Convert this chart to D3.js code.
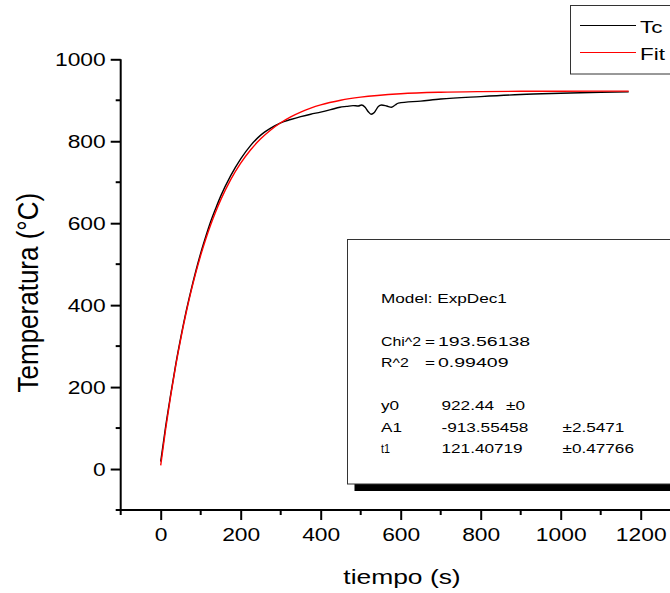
<!DOCTYPE html>
<html>
<head>
<meta charset="utf-8">
<script src="https://cdn.jsdelivr.net/npm/d3@7"></script>
<style>
  html, body { margin: 0; padding: 0; background: #fff; }
  svg { display: block; font-family: "Liberation Sans", Arial, sans-serif; }
</style>
</head>
<body>
<svg id="chart" width="670" height="593"></svg>
<script>
// Measured furnace temperature (Tc) versus time
const tcTime = [0, 12.5, 25, 37.5, 50, 62.5, 75, 87.5, 100, 112.5, 125, 137.5, 150, 175, 200, 225, 250, 275, 300,
  325, 350, 375, 400, 425, 448, 465, 481, 494, 502, 511, 519, 526, 534, 544, 552, 565, 577, 586, 594,
  650, 700, 800, 900, 1000, 1100, 1170];
const tcTemp = [18, 105, 182, 255, 320, 380, 433, 482, 527, 567, 604, 636, 666, 716, 757, 790, 815, 832, 845,
  853, 860, 866, 871, 877, 883, 885, 887, 886, 888.5, 883, 872, 866, 870, 885, 888.5, 886, 883, 888.5, 893,
  898, 903, 909, 914, 917, 919.5, 920.5];

// ExpDec1 fit curve, sampled
const fitTime = [0, 12.5, 25, 37.5, 50, 62.5, 75, 87.5, 100, 112.5, 125, 137.5, 150, 175, 200, 225, 250, 275, 300,
  325, 350, 375, 400, 450, 500, 600, 700, 800, 900, 1000, 1170];
const fitTemp = [8.9, 98.3, 178.9, 251.6, 317.2, 376.5, 429.9, 478.1, 521.5, 560.7, 596.2, 628.1, 656.9, 706.3,
  746.5, 779.3, 805.9, 827.6, 845.2, 859.6, 871.3, 880.8, 888.6, 900.0, 907.6, 915.9, 919.6, 921.2, 921.9, 922.2, 922.4];

// Axis ticks
const xMajor = [0, 200, 400, 600, 800, 1000, 1200];
const xMinor = [-100, 100, 300, 500, 700, 900, 1100, 1300];
const yMajor = [0, 200, 400, 600, 800, 1000];
const yMinor = [-100, 100, 300, 500, 700, 900];

// Legend entries
const legendNames = ["Tc", "Fit"];
const legendColors = ["#000000", "#ff0000"];

// Fit report: one row per line, [label, "=" sign, value, error]
const reportRows = [
  ["Model: ExpDec1", "", "", ""],
  null,
  ["Chi^2", "=", "193.56138", ""],
  ["R^2", "=", "0.99409", ""],
  null,
  ["y0", "", "922.44", "\u00b10"],
  ["A1", "", "-913.55458", "\u00b12.5471"],
  ["t1", "", "121.40719", "\u00b10.47766"]
];

// Text in this figure is set wide: glyphs are stretched horizontally
function widen(sel, sx = 1.32) {
  sel.each(function () {
    const w = this.getComputedTextLength();
    d3.select(this).attr("textLength", w * sx).attr("lengthAdjust", "spacingAndGlyphs");
  });
}

const svg = d3.select("#chart");

const x = d3.scaleLinear().domain([-100, 1300]).range([120.7, 680.7]);
const y = d3.scaleLinear().domain([-100, 1000]).range([510, 59.3]);

// Curves
const line = d3.line().x(d => x(d[0])).y(d => y(d[1])).curve(d3.curveMonotoneX);
const tcData = tcTime.map((t, i) => [t, tcTemp[i]]);
const fitData = fitTime.map((t, i) => [t, fitTemp[i]]);

svg.append("path").datum(tcData)
  .attr("d", line).attr("fill", "none").attr("stroke", "#000").attr("stroke-width", 1.4);
svg.append("path").datum(fitData)
  .attr("d", line).attr("fill", "none").attr("stroke", "#ff0000").attr("stroke-width", 1.4);

// Axes
const axisStyle = g => {
  g.select(".domain").attr("stroke", "#000").attr("stroke-width", 2);
  g.selectAll(".tick line").attr("stroke", "#000").attr("stroke-width", 2);
  g.selectAll(".tick text").attr("fill", "#000").style("font-size", "19px")
    .style("font-family", "'Liberation Sans', Arial, sans-serif");
};

const xAxis = svg.append("g").attr("transform", `translate(0,${y(-100)})`)
  .call(d3.axisBottom(x).tickValues(xMajor).tickSize(10).tickPadding(8).tickSizeOuter(0).tickFormat(d3.format("d")));
axisStyle(xAxis);
xAxis.select(".domain").attr("d", `M${x(-100) - 4},0H${x(1300)}`);
xAxis.selectAll(".minor").data(xMinor).enter().append("line")
  .attr("x1", d => x(d)).attr("x2", d => x(d)).attr("y1", 0).attr("y2", 5)
  .attr("stroke", "#000").attr("stroke-width", 2);
widen(xAxis.selectAll(".tick text"), 1.2);

const yAxis = svg.append("g").attr("transform", `translate(${x(-100)},0)`)
  .call(d3.axisLeft(y).tickValues(yMajor).tickSize(10).tickPadding(5).tickSizeOuter(0).tickFormat(d3.format("d")));
axisStyle(yAxis);
yAxis.select(".domain").attr("d", `M0,${y(1000)}V${y(-100) + 1}`);
yAxis.selectAll(".minor").data(yMinor).enter().append("line")
  .attr("x1", -5).attr("x2", 0).attr("y1", d => y(d)).attr("y2", d => y(d))
  .attr("stroke", "#000").attr("stroke-width", 2);
widen(yAxis.selectAll(".tick text"), 1.2);

// Axis titles
svg.append("text")
  .attr("transform", `translate(38,${(y(-100) + y(1000)) / 2 + 8}) rotate(-90) scale(1,1.12)`)
  .attr("text-anchor", "middle").style("font-size", "26px").text("Temperatura (\u00b0C)");
svg.append("text")
  .attr("x", 402).attr("y", 584)
  .attr("text-anchor", "middle").style("font-size", "20px").text("tiempo (s)")
  .call(widen);

// Fit report box with drop shadow
const box = { x: 347.5, y: 239.5, w: 340, h: 244.5 };
svg.append("rect").attr("x", box.x + 7).attr("y", box.y + box.h).attr("width", box.w).attr("height", 7)
  .attr("fill", "#000");
svg.append("rect").attr("x", box.x).attr("y", box.y).attr("width", box.w).attr("height", box.h)
  .attr("fill", "#fff").attr("stroke", "#333").attr("stroke-width", 1);

reportRows.forEach((row, i) => {
  if (!row) return;
  const by = 302.5 + i * 21.5;
  const [label, eq, val, err] = row;
  const put = (txt, cx) => svg.append("text").attr("x", cx).attr("y", by)
    .style("font-size", "13px").text(txt);
  const lt = put(label, 381);
  if (label === "t1") lt.attr("textLength", 9).attr("lengthAdjust", "spacingAndGlyphs");
  else widen(lt, eq ? 1.22 : 1.32);
  if (eq) widen(put(eq, 425));
  if (val) widen(put(val, eq ? 438 : 441.5), eq ? 1.5 : 1.32);
  if (err) widen(put(err, label === "y0" ? 506 : 562.5));
});

// Legend
const leg = svg.append("g");
leg.append("rect").attr("x", 570.5).attr("y", 5.5).attr("width", 120).attr("height", 68.5)
  .attr("fill", "#fff").attr("stroke", "#333").attr("stroke-width", 1);
legendNames.forEach((name, i) => {
  const ly = 25.5 + i * 27;
  leg.append("line").attr("x1", 580).attr("x2", 636).attr("y1", ly).attr("y2", ly)
    .attr("stroke", legendColors[i]).attr("stroke-width", 1);
  leg.append("text").attr("x", 640).attr("y", ly + 7).style("font-size", "17px").text(name).call(widen);
});
</script>
</body>
</html>
